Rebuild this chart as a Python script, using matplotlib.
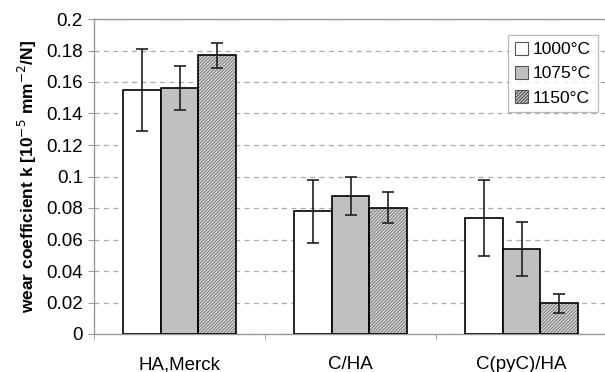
import numpy as np
import matplotlib.pyplot as plt
from matplotlib.patches import Patch

plt.rcParams["font.family"] = ["Liberation Sans", "DejaVu Sans"]

categories = ["HA,Merck", "C/HA", "C(pyC)/HA"]
temperatures = ["1000°C", "1075°C", "1150°C"]

k_1000 = [0.155, 0.078, 0.0737]
k_1075 = [0.156, 0.0876, 0.054]
k_1150 = [0.177, 0.0802, 0.0195]

err_1000 = [0.026, 0.020, 0.024]
err_1075 = [0.014, 0.012, 0.017]
err_1150 = [0.008, 0.010, 0.006]

values = [k_1000, k_1075, k_1150]
errors = [err_1000, err_1075, err_1150]
faces = ["white", "#c0c0c0", "#e6e6e6"]
hatches = [None, None, "//////////"]

fig = plt.figure(figsize=(6.05, 3.72), dpi=100)
ax = fig.add_axes([94 / 605, 38 / 372, 513 / 605, 315 / 372])

x = np.arange(len(categories))
width = 0.222

for i in range(3):
    pos = x + (i - 1) * width
    if hatches[i]:
        ax.bar(pos, values[i], width, color=faces[i], edgecolor="#8a8a8a",
               hatch=hatches[i], linewidth=0, zorder=2)
        ax.bar(pos, values[i], width, facecolor="none", edgecolor="black",
               linewidth=1.2, zorder=3)
    else:
        ax.bar(pos, values[i], width, color=faces[i], edgecolor="black",
               linewidth=1.2, zorder=3)
    ax.errorbar(pos, values[i], yerr=errors[i], fmt="none", ecolor="#202020",
                elinewidth=1.2, capsize=4, capthick=1.2, zorder=4)

ax.set_xlim(-0.5, 2.5)
ax.set_ylim(0, 0.2)
ax.set_yticks(np.arange(0, 0.201, 0.02))
ax.set_yticklabels(["0", "0.02", "0.04", "0.06", "0.08", "0.1", "0.12",
                    "0.14", "0.16", "0.18", "0.2"])
ax.set_xticks(x)
ax.set_xticklabels(categories)
ax.set_xticks([-0.5, 0.5, 1.5, 2.5], minor=True)
ax.tick_params(axis="x", which="major", length=0, pad=16, labelsize=13.5)
ax.tick_params(axis="x", which="minor", length=4, color="#999999")
ax.tick_params(axis="y", length=4, color="#999999", labelsize=13.5, pad=4)

ax.yaxis.grid(True, linestyle=(0, (4, 3.5)), color="#aaaaaa", linewidth=0.9, zorder=0)
ax.set_axisbelow(True)
for s in ax.spines.values():
    s.set_color("#999999")
    s.set_linewidth(1.0)

ax.set_ylabel("wear coefficient k [10$^{-5}$ mm$^{-2}$/N]", fontsize=12.5,
              fontweight="bold", labelpad=5)

handles = [Patch(facecolor=faces[i], edgecolor="#555555", hatch=hatches[i],
                 linewidth=0.8, label=temperatures[i]) for i in range(3)]
leg = ax.legend(handles=handles, loc="upper right", bbox_to_anchor=(598 / 605, (372 - 35) / 372),
                bbox_transform=fig.transFigure, fontsize=12.5, frameon=True, fancybox=False,
                handlelength=0.75, handleheight=0.75, handletextpad=0.3,
                borderpad=0.4, labelspacing=0.5, borderaxespad=0)
leg.get_frame().set_edgecolor("#aaaaaa")
leg.get_frame().set_linewidth(0.9)

fig.savefig("out.png", dpi=100)
